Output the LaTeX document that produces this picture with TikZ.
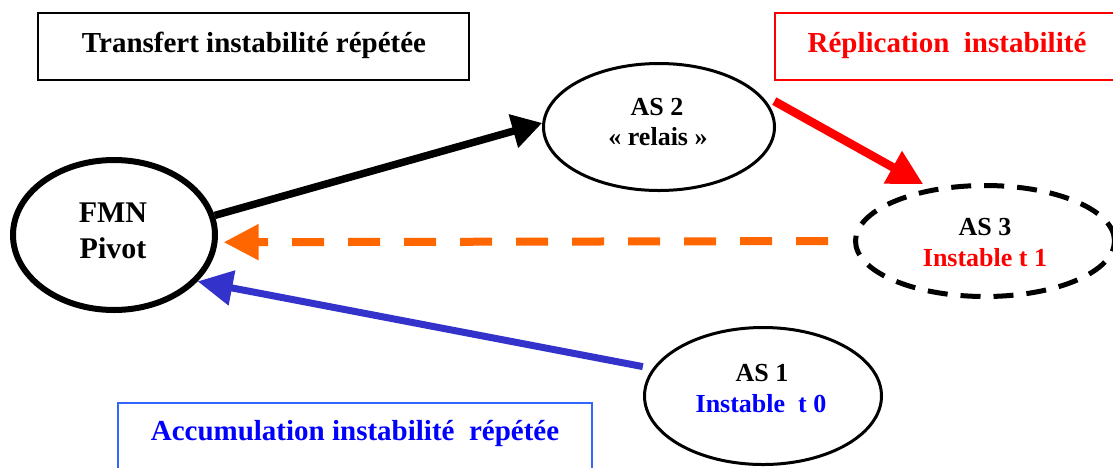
\documentclass[tikz,border=0pt]{standalone}
\usepackage{fontspec}
\setmainfont{Liberation Serif}
\usetikzlibrary{arrows.meta,shapes.geometric}
\definecolor{cOrange}{HTML}{FF6600}
\definecolor{cArrowBlue}{HTML}{3333CC}
\definecolor{cBoxBlue}{HTML}{3366FF}
\definecolor{cTextBlue}{HTML}{0000FF}
\definecolor{cRed}{HTML}{FF0000}
\begin{document}
\begin{tikzpicture}[x=1pt,y=-1pt,
  ell/.style={ellipse, draw, inner sep=0pt},
  lbl/.style={rectangle, draw, line width=1.3pt, inner sep=0pt},
  txt/.style={anchor=base, inner sep=0pt, font=\bfseries\fontsize{26}{30}\selectfont},
  bigtxt/.style={anchor=base, inner sep=0pt, font=\bfseries\fontsize{30}{36}\selectfont},
  boxtxt/.style={anchor=base, inner sep=0pt, font=\bfseries\fontsize{29}{34}\selectfont},
]
\useasboundingbox (0,0) rectangle (1113,467);
\clip (0,0) rectangle (1113,467);

% label boxes
\node[lbl, minimum width=431pt, minimum height=67pt] (btransfert) at (253.5,46.5) {};
\node[boxtxt] (ttransfert) at (254,52) {Transfert instabilité répétée};
\node[lbl, draw=cRed, minimum width=350pt, minimum height=67pt] (breplic) at (950,46.5) {};
\node[boxtxt, text=cRed] (treplic) at (947,52) {Réplication\ \ instabilité};
\node[lbl, draw=cBoxBlue, line width=2.2pt, minimum width=474pt, minimum height=87pt] (baccu) at (355,446.5) {};
\node[boxtxt, text=cTextBlue] (taccu) at (355,440) {Accumulation instabilité\ \ répétée};

% ellipses
\node[ell, line width=6pt, minimum width=202pt, minimum height=150pt] (fmn) at (114,235) {};
\node[ell, line width=3pt, minimum width=231pt, minimum height=127pt] (as2) at (659,127) {};
\node[ell, line width=5pt, dash pattern=on 20pt off 13pt, minimum width=259pt, minimum height=111pt] (as3) at (985,241) {};
\node[ell, line width=3pt, minimum width=237pt, minimum height=137pt] (as1) at (763,396) {};

% ellipse texts
\node[bigtxt] (fmn1) at (113,222) {FMN};
\node[bigtxt] (fmn2) at (113,258) {Pivot};
\node[txt] (as2a) at (657,115) {AS 2};
\node[txt] (as2b) at (658,145) {« relais »};
\node[txt] (as3a) at (985,235) {AS 3};
\node[txt, text=cRed] (as3b) at (985,266) {Instable t 1};
\node[txt] (as1a) at (762,381) {AS 1};
\node[txt, text=cTextBlue] (as1b) at (761,412) {Instable\ \ t 0};

% connectors
\draw[line width=7.5pt, -{Triangle[length=30pt,width=33pt]}] (fmn.11) -- (as2.178);
\draw[cRed, line width=8.5pt, -{Triangle[length=35pt,width=35pt]}, shorten <=20pt, shorten >=8pt] (as2.20) -- (as3.136);
\draw[cOrange, line width=8pt, dash pattern=on 32pt off 24pt, -{Triangle[length=35pt,width=34pt]}, shorten <=25pt, shorten >=6pt] (as3.180) -- (fmn.-4);
\draw[cArrowBlue, line width=7pt, -{Triangle[length=35pt,width=34pt]}, shorten <=10pt] (as1.166) -- (fmn.-29);
\end{tikzpicture}
\end{document}
